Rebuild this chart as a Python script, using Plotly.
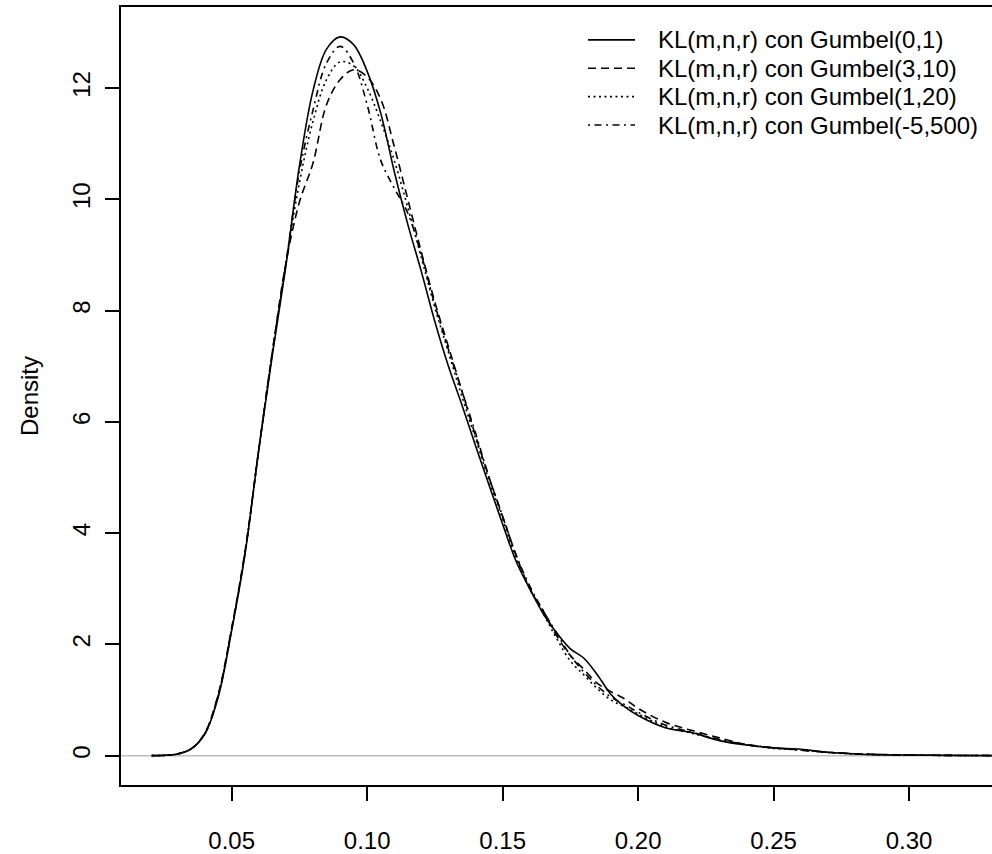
import plotly.graph_objects as go

# ---- data ----
x_grid = [0.0205, 0.025, 0.030, 0.035, 0.040, 0.045, 0.050, 0.055, 0.060, 0.065,
          0.070, 0.075, 0.080, 0.085, 0.090, 0.095, 0.100, 0.105, 0.110, 0.115,
          0.120, 0.125, 0.130, 0.135, 0.140, 0.145, 0.150, 0.155, 0.160, 0.165,
          0.170, 0.175, 0.180, 0.185, 0.190, 0.195, 0.200, 0.210, 0.220, 0.230,
          0.240, 0.250, 0.260, 0.270, 0.280, 0.290, 0.300, 0.315, 0.335]

dens_gumbel_0_1 = [0.0, 0.005, 0.03, 0.12, 0.38, 1.05, 2.25, 3.65, 5.5, 7.2,
                   8.8, 10.6, 11.95, 12.7, 12.92, 12.78, 12.3, 11.55, 10.5, 9.55,
                   8.7, 7.8, 7.0, 6.3, 5.57, 4.86, 4.16, 3.49, 3.0, 2.55,
                   2.2, 1.92, 1.75, 1.45, 1.1, 0.88, 0.72, 0.5, 0.41, 0.27,
                   0.19, 0.14, 0.115, 0.06, 0.03, 0.015, 0.01, 0.004, 0.0]

dens_gumbel_3_10 = [0.0, 0.005, 0.03, 0.12, 0.40, 1.1, 2.3, 3.7, 5.5, 7.25,
                    8.85, 9.95, 10.65, 11.7, 12.15, 12.33, 12.2, 11.8, 10.95, 10.0,
                    9.05, 8.15, 7.35, 6.55, 5.75, 5.0, 4.3, 3.6, 3.0, 2.6,
                    2.15, 1.8, 1.55, 1.3, 1.15, 1.02, 0.85, 0.6, 0.45, 0.32,
                    0.2, 0.14, 0.1, 0.06, 0.035, 0.02, 0.01, 0.004, 0.0]

dens_gumbel_1_20 = [0.0, 0.005, 0.03, 0.12, 0.39, 1.08, 2.28, 3.68, 5.5, 7.25,
                    8.85, 10.3, 11.4, 12.15, 12.47, 12.4, 12.0, 11.4, 10.7, 9.85,
                    8.95, 8.05, 7.25, 6.45, 5.7, 4.95, 4.25, 3.55, 3.0, 2.55,
                    2.1, 1.7, 1.45, 1.2, 1.0, 0.88, 0.75, 0.52, 0.4, 0.28,
                    0.19, 0.13, 0.1, 0.055, 0.03, 0.015, 0.01, 0.004, 0.0]

dens_gumbel_m5_500 = [0.0, 0.005, 0.03, 0.12, 0.39, 1.07, 2.27, 3.67, 5.5, 7.25,
                      8.85, 10.5, 11.6, 12.45, 12.75, 12.45, 11.7, 10.7, 10.2, 9.75,
                      9.0, 8.1, 7.3, 6.55, 5.8, 5.0, 4.3, 3.6, 3.05, 2.6,
                      2.2, 1.8, 1.5, 1.25, 1.05, 0.92, 0.78, 0.55, 0.42, 0.29,
                      0.2, 0.14, 0.1, 0.06, 0.035, 0.018, 0.01, 0.004, 0.0]

series_names = ["KL(m,n,r) con Gumbel(0,1)", "KL(m,n,r) con Gumbel(3,10)",
                "KL(m,n,r) con Gumbel(1,20)", "KL(m,n,r) con Gumbel(-5,500)"]
series_values = [dens_gumbel_0_1, dens_gumbel_3_10, dens_gumbel_1_20, dens_gumbel_m5_500]

x_tick_vals = [0.05, 0.10, 0.15, 0.20, 0.25, 0.30]
x_tick_text = ["0.05", "0.10", "0.15", "0.20", "0.25", "0.30"]
y_tick_vals = [0, 2, 4, 6, 8, 10, 12]
y_tick_text = ["0", "2", "4", "6", "8", "10", "12"]

# ---- styles ----
dashes = ["solid", "8px,5px", "2px,3.5px", "2px,4.5px,7px,4.5px"]
FONT = "Liberation Sans, Arial, Helvetica, sans-serif"
FS = 24
W, H = 992, 854
ML, MR, MT, MB = 121, 0, 7, 66
PW, PH = W - ML - MR, H - MT - MB

def px(xp):
    return (xp - ML) / PW

def py(yp):
    return (H - MB - yp) / PH

fig = go.Figure()
for name, vals, d in zip(series_names, series_values, dashes):
    fig.add_trace(go.Scatter(x=x_grid, y=vals, mode="lines", name=name,
                             line=dict(color="black", width=1.6, dash=d, shape="spline",
                                       smoothing=1.0),
                             showlegend=False))

shapes = [dict(type="line", xref="paper", yref="y", x0=0, x1=1, y0=0, y1=0,
               line=dict(color="#BEBEBE", width=1.5), layer="below")]
annotations = []
legend_rows_y = [40, 68.5, 97, 125.5]
for name, d, ry in zip(series_names, dashes, legend_rows_y):
    shapes.append(dict(type="line", xref="paper", yref="paper",
                       x0=px(588), x1=px(635), y0=py(ry), y1=py(ry),
                       line=dict(color="black", width=1.6, dash=d)))
    annotations.append(dict(xref="paper", yref="paper", x=px(656), y=py(ry),
                            text=name, showarrow=False, xanchor="left", yanchor="middle",
                            font=dict(family=FONT, size=FS, color="black")))
annotations.append(dict(xref="paper", yref="paper", x=px(29), y=0.5, text="Density",
                        textangle=-90, showarrow=False, xanchor="center", yanchor="middle",
                        font=dict(family=FONT, size=FS, color="black")))

fig.update_layout(
    width=W, height=H, margin=dict(l=ML, r=MR, t=MT, b=MB),
    plot_bgcolor="white", paper_bgcolor="white",
    font=dict(family=FONT, size=FS, color="black"),
    shapes=shapes, annotations=annotations, showlegend=False,
    xaxis=dict(range=[0.00915, 0.3306], tickvals=x_tick_vals, ticktext=x_tick_text,
               showgrid=False, zeroline=False, showline=True, mirror=True,
               linecolor="black", linewidth=1.5, ticks="outside", ticklen=14,
               tickwidth=1.5, tickcolor="black", ticklabelstandoff=19),
    yaxis=dict(range=[-0.528, 13.457], tickvals=y_tick_vals, ticktext=y_tick_text,
               showgrid=False, zeroline=False, showline=True, mirror=False,
               linecolor="black", linewidth=1.5, ticks="outside", ticklen=14,
               tickwidth=1.5, tickcolor="black", tickangle=-90, ticklabelstandoff=6),
)

fig.write_html("out.html")
